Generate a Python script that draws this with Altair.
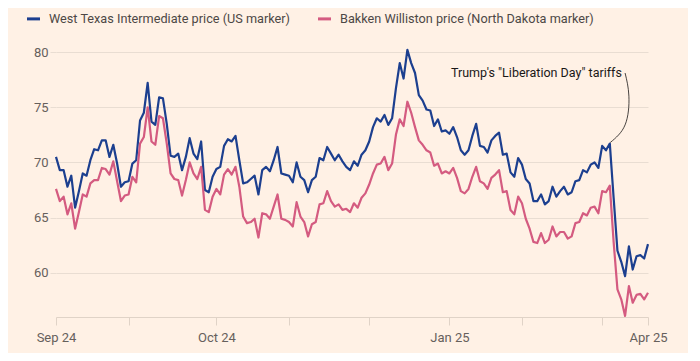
import altair as alt
import pandas as pd

# ---- data ----
wti = [70.5, 69.3, 69.3, 67.8, 68.8, 65.9, 67.4, 69.0, 68.8, 70.2,
       71.2, 71.1, 72.0, 72.0, 70.5, 71.6, 69.9, 67.8, 68.2, 68.3,
       69.9, 70.2, 73.8, 74.5, 77.2, 73.7, 73.4, 75.9,
       75.8, 73.5, 70.6, 70.5, 70.8, 69.3, 70.5, 72.2, 70.8, 70.3,
       71.9, 67.5, 67.3, 68.7, 69.4, 69.6, 71.5, 72.1, 71.9, 72.4,
       70.2, 68.1, 68.2, 68.5, 68.8, 67.1, 69.3, 69.6, 69.2, 70.2,
       71.4, 69.0,
       68.9, 68.8, 68.2, 70.0, 68.7, 68.4, 67.3, 68.4, 68.7, 70.4,
       70.2, 71.4, 70.8, 70.2, 70.7, 70.1, 69.6, 69.3, 70.1, 69.7,
       70.7, 71.1, 71.9, 73.2, 74.0, 73.7, 74.3, 73.4, 74.0, 76.7,
       79.0, 77.6, 80.2,
       79.0, 78.1, 76.1, 75.6, 74.8, 74.7, 73.3, 73.9, 72.8, 72.9,
       72.6, 73.2, 72.3, 71.1, 70.7, 71.1, 72.4, 73.5, 71.5, 71.4,
       70.9, 72.0, 72.4, 72.7, 70.7, 70.8, 69.1, 68.7, 70.4, 69.8,
       68.5, 68.1,
       66.5, 66.5, 67.1, 66.2, 66.5, 67.8, 66.9, 67.4, 67.8, 67.1,
       67.3, 68.3, 68.4, 69.3, 69.1, 69.8, 70.0, 69.5,
       71.5, 71.1, 71.7,
       66.8, 62.0, 61.0, 59.7, 62.4, 60.3, 61.5, 61.6, 61.3, 62.6]

bakken = [67.6, 66.5, 66.9, 65.3, 66.3, 64.0, 65.5, 67.1, 66.9, 68.1,
          68.4, 68.4, 69.5, 69.4, 68.9, 70.1, 68.3, 66.5, 67.0, 67.1,
          68.7, 68.2, 71.7, 72.3, 75.0, 71.9, 71.6, 74.2,
          74.0, 71.7, 69.0, 68.5, 68.4, 67.0, 68.4, 70.0, 69.0, 68.5,
          69.6, 65.7, 65.5, 66.9, 67.6, 67.1, 68.9, 69.4, 68.9, 69.6,
          67.8, 65.1, 64.5, 64.6, 64.9, 63.2, 65.4, 65.3, 64.9, 66.0,
          67.1, 64.9,
          64.8, 64.6, 64.2, 66.4, 65.1, 64.6, 63.3, 64.4, 64.6, 66.2,
          66.3, 67.4, 66.5, 66.0, 66.2, 65.7, 65.8, 65.5, 66.3, 65.9,
          66.8, 67.2, 68.0, 69.0, 69.8, 69.9, 70.5, 69.3, 69.9, 72.5,
          73.9, 73.3, 75.5,
          74.5, 73.2, 72.0, 71.6, 71.1, 70.9, 69.7, 69.9, 69.0, 69.2,
          69.0, 69.5, 68.6, 67.4, 67.2, 67.6, 68.7, 69.6, 68.3, 68.1,
          67.6, 68.6, 68.9, 69.3, 67.3, 67.4, 65.7, 65.3, 66.9, 66.3,
          64.9, 64.0,
          62.8, 62.7, 63.6, 62.7, 63.0, 64.2, 63.3, 63.7, 63.7, 63.1,
          63.3, 64.5, 64.6, 65.4, 65.2, 65.9, 66.0, 65.4,
          67.4, 67.3, 67.9,
          62.8, 58.5, 57.6, 56.1, 58.8, 57.3, 58.0, 58.1, 57.6, 58.2]

series_names = ["West Texas Intermediate price (US marker)",
                "Bakken Williston price (North Dakota marker)"]
series_colors = ["#1c3f8f", "#d45b80"]

x_tick_index = [0, 19, 42, 61, 82, 103, 122, 143, 155]
x_tick_labels = ["Sep 24", "", "Oct 24", "", "", "Jan 25", "", "", "Apr 25"]
y_ticks = [60, 65, 70, 75, 80]

annotation_text = 'Trump\'s "Liberation Day" tariffs'
annotation_at = [103.4, 78.1]          # (day index, price)
arc_index = [149.0, 150.0, 149.0, 145.1]
arc_price = [78.1, 76.0, 73.4, 71.8]

# ---- tables ----
rows = []
for name, vals in zip(series_names, [wti, bakken]):
    for i, v in enumerate(vals):
        rows.append({"i": i, "price": v, "series": name})
df = pd.DataFrame(rows)

arc_df = pd.DataFrame({"i": arc_index, "price": arc_price,
                       "k": list(range(len(arc_index)))})
text_df = pd.DataFrame({"i": [annotation_at[0]], "price": [annotation_at[1]],
                        "t": [annotation_text]})

label_expr = ""
for v, lab in zip(x_tick_index, x_tick_labels):
    label_expr += f"datum.value == {v} ? '{lab}' : "
label_expr += "''"

FONT = "Roboto"
GRID = "#e9ddd2"
xscale = alt.Scale(domain=[0, len(wti) - 1], nice=False, zero=False)
yscale = alt.Scale(domain=[56, 81], nice=False, zero=False)

x_axis = alt.Axis(values=x_tick_index, labelExpr=label_expr, grid=False,
                  domain=True, domainColor="#e0d3c7", ticks=True,
                  tickColor="#e0d3c7", tickSize=8, labelPadding=6,
                  labelFlush=False, labelOverlap=False, labelBound=False,
                  labelFont=FONT, labelFontSize=13, labelColor="#66605c",
                  title=None)
y_axis = alt.Axis(values=y_ticks, grid=True, gridColor=GRID, domain=False,
                  ticks=True, tickColor=GRID, tickSize=6, labelPadding=2,
                  labelFont=FONT, labelFontSize=13, labelColor="#66605c",
                  title=None)

lines = alt.Chart(df).mark_line(strokeWidth=2.2, strokeJoin="round").encode(
    x=alt.X("i:Q", scale=xscale, axis=x_axis),
    y=alt.Y("price:Q", scale=yscale, axis=y_axis),
    color=alt.Color("series:N",
                    scale=alt.Scale(domain=series_names, range=series_colors),
                    legend=alt.Legend(orient="none", legendX=-31, legendY=-31,
                                      direction="horizontal", title=None,
                                      symbolType="stroke", symbolStrokeWidth=3,
                                      symbolSize=170, labelFont=FONT,
                                      labelFontSize=12.7, labelColor="#4d4845",
                                      labelLimit=400, columnPadding=20,
                                      labelOffset=7)),
)

arc = alt.Chart(arc_df).mark_line(interpolate="natural", color="#33302e",
                                  strokeWidth=0.9).encode(
    x=alt.X("i:Q", scale=xscale),
    y=alt.Y("price:Q", scale=yscale),
    order="k:Q",
)

label = alt.Chart(text_df).mark_text(align="left", baseline="middle",
                                     font=FONT, fontSize=12.5,
                                     color="#1a1817").encode(
    x=alt.X("i:Q", scale=xscale),
    y=alt.Y("price:Q", scale=yscale),
    text="t:N",
)

chart = alt.layer(lines, arc, label).properties(
    width=592, height=276,
    autosize=alt.AutoSizeParams(type="none"),
    padding={"left": 48, "top": 33, "right": 40, "bottom": 36},
    background="#fff1e5",
).configure_view(stroke=None)

chart.save("out.html", embed_options={"renderer": "svg", "actions": False})
